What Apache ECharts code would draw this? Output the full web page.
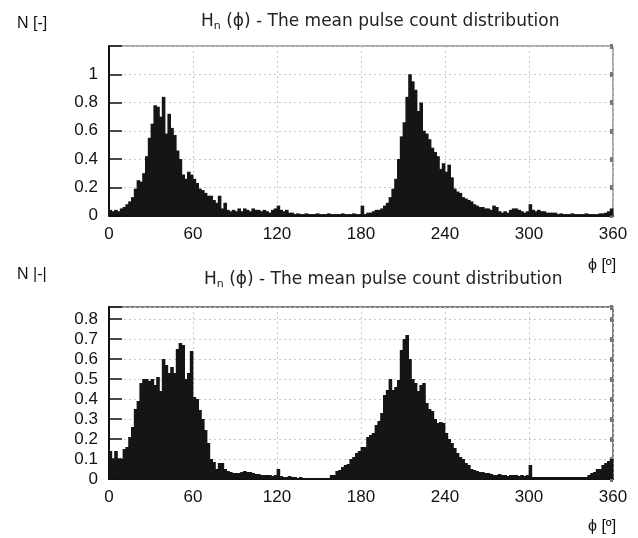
<!DOCTYPE html>
<html>
<head>
<meta charset="utf-8">
<script src="https://cdn.jsdelivr.net/npm/echarts@6/dist/echarts.min.js"></script>
<style>html,body{margin:0;padding:0;background:#fff;}#c{width:638px;height:538px;}</style>
</head>
<body>
<div id="c"></div>
<script>
// Bin width in degrees (histogram bins start at 0)
const BIN_WIDTH = 2;
const xTicks = [0, 60, 120, 180, 240, 300, 360];

// Top histogram: N [-] per 2-degree bin, 0..360
const topValues = [
  0.04,0.03,0.04,0.03,0.05,0.06,0.08,0.10,0.13,0.19,
  0.25,0.24,0.30,0.42,0.55,0.65,0.78,0.77,0.70,0.84,
  0.58,0.72,0.62,0.57,0.46,0.40,0.29,0.26,0.31,0.29,
  0.26,0.23,0.19,0.18,0.16,0.14,0.14,0.11,0.09,0.14,
  0.05,0.09,0.04,0.03,0.04,0.03,0.05,0.03,0.05,0.04,
  0.03,0.05,0.04,0.04,0.03,0.04,0.03,0.02,0.04,0.05,
  0.07,0.04,0.03,0.04,0.02,0.02,0.01,0.015,0.01,0.01,
  0.015,0.01,0.01,0.01,0.015,0.01,0.01,0.01,0.015,0.01,
  0.01,0.01,0.01,0.015,0.01,0.01,0.01,0.015,0.01,0.01,
  0.07,0.01,0.02,0.02,0.03,0.04,0.04,0.05,0.07,0.09,
  0.13,0.19,0.26,0.40,0.56,0.66,0.84,1.00,0.95,0.89,
  0.74,0.80,0.60,0.58,0.54,0.48,0.45,0.42,0.33,0.37,
  0.31,0.36,0.27,0.19,0.17,0.16,0.13,0.12,0.11,0.10,
  0.08,0.07,0.06,0.06,0.05,0.05,0.04,0.07,0.06,0.03,
  0.02,0.03,0.02,0.04,0.05,0.05,0.04,0.03,0.02,0.03,
  0.08,0.04,0.03,0.04,0.03,0.03,0.02,0.02,0.02,0.02,
  0.01,0.015,0.01,0.01,0.01,0.015,0.01,0.01,0.01,0.01,
  0.015,0.01,0.01,0.01,0.01,0.015,0.015,0.02,0.03,0.05
];

// Bottom histogram: N [-] per 2-degree bin, 0..360
const bottomValues = [
  0.14,0.10,0.14,0.10,0.10,0.15,0.16,0.21,0.26,0.35,
  0.39,0.48,0.50,0.50,0.49,0.50,0.47,0.51,0.44,0.60,
  0.57,0.53,0.56,0.53,0.65,0.68,0.67,0.50,0.53,0.64,
  0.41,0.40,0.345,0.30,0.245,0.18,0.10,0.085,0.05,0.08,
  0.08,0.05,0.04,0.035,0.03,0.03,0.03,0.035,0.04,0.035,
  0.035,0.03,0.025,0.025,0.02,0.02,0.02,0.02,0.015,0.02,
  0.05,0.015,0.01,0.01,0.015,0.01,0.01,0.005,0.01,0.005,
  0.005,0.005,0.005,0.005,0.005,0.005,0.005,0.005,0.005,0.02,
  0.02,0.04,0.045,0.06,0.07,0.075,0.10,0.11,0.13,0.14,
  0.16,0.16,0.21,0.22,0.23,0.27,0.29,0.33,0.42,0.445,
  0.50,0.445,0.46,0.495,0.645,0.70,0.72,0.60,0.50,0.48,
  0.44,0.47,0.48,0.38,0.35,0.34,0.30,0.28,0.285,0.28,
  0.23,0.20,0.18,0.155,0.13,0.11,0.10,0.08,0.07,0.05,
  0.045,0.04,0.035,0.035,0.03,0.03,0.025,0.02,0.02,0.025,
  0.02,0.02,0.015,0.02,0.02,0.02,0.015,0.02,0.015,0.02,
  0.07,0.01,0.01,0.01,0.01,0.01,0.01,0.01,0.01,0.01,
  0.01,0.01,0.01,0.01,0.01,0.01,0.01,0.01,0.01,0.01,
  0.01,0.02,0.03,0.035,0.05,0.05,0.07,0.08,0.09,0.10
];

const titleText = 'H{sub|n} (ϕ) - The mean pulse count distribution';
const yNameTop = 'N [-]';
const yNameBottom = 'N |-|';
const xName = 'ϕ [º]';

const toData = vals => vals.map((v, i) => [i * BIN_WIDTH + BIN_WIDTH / 2, v]);

const labelFont = { fontFamily: 'Liberation Sans', fontSize: 17, color: '#111' };
const titleStyle = {
  fontFamily: 'DejaVu Sans', fontSize: 17, fontWeight: 'normal', color: '#222',
  rich: { sub: { fontFamily: 'DejaVu Sans', fontSize: 11, color: '#222', padding: [10, 0, 0, 0] } }
};
const plainStyle = { fontFamily: 'Liberation Sans', fontSize: 16, fontWeight: 'normal', color: '#111' };

function xAxisCfg(gridIndex) {
  return {
    type: 'value', gridIndex, min: 0, max: 360, interval: 60,
    axisLine: { show: true, onZero: false, lineStyle: { color: '#111', width: 2 } },
    axisTick: { show: false },
    axisLabel: Object.assign({ margin: 10 }, labelFont),
    splitLine: { show: true, lineStyle: { color: '#c8c8c8', type: [2, 3], width: 1 } }
  };
}
function yAxisCfg(gridIndex, max, interval, maxLabel) {
  return {
    type: 'value', gridIndex, min: 0, max, interval,
    axisLine: { show: true, lineStyle: { color: '#111', width: 2 } },
    axisTick: { show: true, inside: true, length: 13, lineStyle: { color: '#111', width: 1.5 } },
    axisLabel: Object.assign({ margin: 11, formatter: v => (v > maxLabel + 1e-9 ? '' : String(+v.toFixed(2))) }, labelFont),
    splitLine: { show: true, lineStyle: { color: '#c8c8c8', type: [2, 3], width: 1 } }
  };
}
function yRightCfg(gridIndex, max, interval) {
  return {
    type: 'value', gridIndex, min: 0, max, interval, position: 'right',
    axisLine: { show: false },
    axisTick: { show: true, inside: true, length: 3, lineStyle: { color: '#777', width: 5 } },
    axisLabel: { show: false },
    splitLine: { show: false }
  };
}

const chart = echarts.init(document.getElementById('c'), null, { renderer: 'canvas' });
chart.setOption({
  animation: false,
  backgroundColor: '#fff',
  title: [
    { text: yNameTop, left: 12, top: 11, textStyle: plainStyle },
    { text: titleText, left: 196, top: 6, textStyle: titleStyle },
    { text: xName, left: 583, top: 253, textStyle: plainStyle },
    { text: yNameBottom, left: 12, top: 262, textStyle: plainStyle },
    { text: titleText, left: 199, top: 264, textStyle: titleStyle },
    { text: xName, left: 583, top: 514, textStyle: plainStyle }
  ],
  grid: [
    { left: 109, right: 25, top: 46, height: 169.5, show: true, borderColor: '#555', borderWidth: 1 },
    { left: 109, right: 25, top: 307, height: 172, show: true, borderColor: '#555', borderWidth: 1.5 }
  ],
  xAxis: [xAxisCfg(0), xAxisCfg(1)],
  yAxis: [
    yAxisCfg(0, 1.2, 0.2, 1.0),
    yAxisCfg(1, 0.86, 0.1, 0.8),
    yRightCfg(0, 1.2, 0.2),
    yRightCfg(1, 0.86, 0.1)
  ],
  series: [
    { type: 'bar', xAxisIndex: 0, yAxisIndex: 0, data: toData(topValues), barWidth: 3.6, barGap: '-100%',
      itemStyle: { color: '#151515' } },
    { type: 'bar', xAxisIndex: 1, yAxisIndex: 1, data: toData(bottomValues), barWidth: 3.6, barGap: '-100%',
      itemStyle: { color: '#151515' } }
  ]
});
</script>
</body>
</html>
